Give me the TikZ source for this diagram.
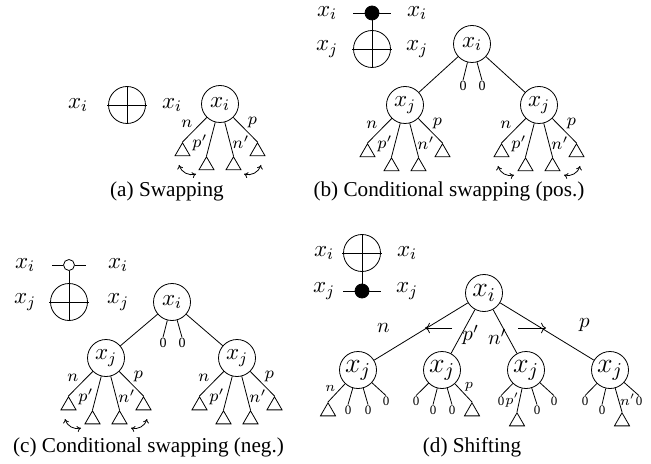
\RequirePackage{fix-cm}
\documentclass[tikz,border=0pt]{standalone}
\usepackage{fontspec}
\setmainfont{Liberation Serif}
\usetikzlibrary{shapes.geometric,arrows.meta,positioning}

\begin{document}
\begin{tikzpicture}[
    x=0.5pt, y=-0.5pt,
    vnode/.style={circle, draw, minimum size=18.5pt, inner sep=0pt, font=\fontsize{11.5}{12}\selectfont},
    bignode/.style={vnode, font=\fontsize{14}{15}\selectfont},
    target/.style={circle, draw, minimum size=18.5pt, inner sep=0pt},
    ctrl/.style={circle, draw, fill=black, minimum size=7pt, inner sep=0pt},
    octrl/.style={circle, draw, fill=white, minimum size=5.5pt, inner sep=0pt},
    qlabel/.style={font=\fontsize{11.5}{12}\selectfont, inner sep=0pt},
    leaf/.style={regular polygon, regular polygon sides=3, draw, minimum size=8.7pt, inner sep=0pt, anchor=corner 1},
    zero/.style={font=\fontsize{7}{8}\selectfont, inner sep=0.3pt},
    dzero/.style={zero, font=\fontsize{6.5}{7}\selectfont},
    elab/.style={font=\fontsize{8.5}{9}\selectfont, inner sep=1pt},
    dlab/.style={font=\fontsize{10.5}{11}\selectfont, inner sep=1pt},
    slab/.style={font=\fontsize{7}{8}\selectfont, inner sep=0.5pt},
    swap/.style={{To[length=2pt,width=3pt]}-{To[length=2pt,width=3pt]}, bend right=45},
    caption/.style={font=\fontsize{10.6}{12}\selectfont}
]
\useasboundingbox (0,0) rectangle (651,464);

% (a) Swapping
\node[qlabel] (aIn) at (78,105) {$x_i$};
\node[target] (aT) at (127,105) {};
\node[qlabel] (aOut) at (172,105) {$x_i$};
\draw ([xshift=-0.5pt]aT.west) -- ([xshift=0.5pt]aT.east);
\draw (aT.north) -- (aT.south);

\node[vnode] (aR) at (220,104) {$x_i$};
\node[leaf] (a1) at (182.5,142) {};
\node[leaf] (a2) at (206.5,156) {};
\node[leaf] (a3) at (233.5,156) {};
\node[leaf] (a4) at (257.5,142) {};
\draw (aR) -- node[elab, above left, pos=0.5] {$n$} (a1.corner 1);
\draw (aR) -- node[elab, left, pos=0.6] {$p'$} (a2.corner 1);
\draw (aR) -- node[elab, right, pos=0.6] {$n'$} (a3.corner 1);
\draw (aR) -- node[elab, above right, pos=0.5] {$p$} (a4.corner 1);
\draw[swap] (179,165) to (196,174);
\draw[swap] (244,174) to (261,165);
\node[caption] (capA) at (167,191) {(a) Swapping};

% (b) Conditional swapping, positive control
\node[qlabel] (bIn1) at (327,13) {$x_i$};
\node[qlabel] (bIn2) at (327,49) {$x_j$};
\node[ctrl] (bC) at (372,13) {};
\node[target] (bT) at (372,49) {};
\node[qlabel] (bOut1) at (417,13) {$x_i$};
\node[qlabel] (bOut2) at (417,49) {$x_j$};
\draw ([xshift=-9.5pt]bC.center) -- ([xshift=9.5pt]bC.center);
\draw ([xshift=-0.5pt]bT.west) -- ([xshift=0.5pt]bT.east);
\draw (bC) -- (bT.south);

\node[vnode] (bR) at (472,44) {$x_i$};
\node[vnode] (bA) at (405,105) {$x_j$};
\node[vnode] (bB) at (539,105) {$x_j$};
\draw (bR) -- (bA);
\draw (bR) -- (bB);
\node[zero] (bz1) at (463,86) {0};
\node[zero] (bz2) at (482,86) {0};
\draw (bR) -- (bz1.north);
\draw (bR) -- (bz2.north);

\node[leaf] (bA1) at (367.5,143) {};
\node[leaf] (bA2) at (391.5,157) {};
\node[leaf] (bA3) at (418.5,157) {};
\node[leaf] (bA4) at (442.5,143) {};
\draw (bA) -- node[elab, above left, pos=0.5] {$n$} (bA1.corner 1);
\draw (bA) -- node[elab, left, pos=0.6] {$p'$} (bA2.corner 1);
\draw (bA) -- node[elab, right, pos=0.6] {$n'$} (bA3.corner 1);
\draw (bA) -- node[elab, above right, pos=0.5] {$p$} (bA4.corner 1);

\node[leaf] (bB1) at (501.5,143) {};
\node[leaf] (bB2) at (525.5,157) {};
\node[leaf] (bB3) at (552.5,157) {};
\node[leaf] (bB4) at (576.5,143) {};
\draw (bB) -- node[elab, above left, pos=0.5] {$n$} (bB1.corner 1);
\draw (bB) -- node[elab, left, pos=0.6] {$p'$} (bB2.corner 1);
\draw (bB) -- node[elab, right, pos=0.6] {$n'$} (bB3.corner 1);
\draw (bB) -- node[elab, above right, pos=0.5] {$p$} (bB4.corner 1);
\draw[swap] (498,166) to (514,175);
\draw[swap] (564,175) to (580,166);
\node[caption] (capB) at (449,191) {(b) Conditional swapping (pos.)};

% (c) Conditional swapping, negative control
\node[qlabel] (cIn1) at (25,265) {$x_i$};
\node[qlabel] (cIn2) at (25,302) {$x_j$};
\node[octrl] (cO) at (69,265) {};
\node[target] (cT) at (69,302) {};
\node[qlabel] (cOut1) at (118,265) {$x_i$};
\node[qlabel] (cOut2) at (118,302) {$x_j$};
\draw ([xshift=-8.5pt]cO.center) -- (cO.west);
\draw (cO.east) -- ([xshift=8.5pt]cO.center);
\draw ([xshift=-0.5pt]cT.west) -- ([xshift=0.5pt]cT.east);
\draw (cO) -- (cT.south);

\node[vnode] (cR) at (172,302) {$x_i$};
\node[vnode] (cA) at (106,358) {$x_j$};
\node[vnode] (cB) at (237,358) {$x_j$};
\draw (cR) -- (cA);
\draw (cR) -- (cB);
\node[zero] (cz1) at (163,343) {0};
\node[zero] (cz2) at (182,343) {0};
\draw (cR) -- (cz1.north);
\draw (cR) -- (cz2.north);

\node[leaf] (cA1) at (68.5,396) {};
\node[leaf] (cA2) at (92.5,410) {};
\node[leaf] (cA3) at (119.5,410) {};
\node[leaf] (cA4) at (143.5,396) {};
\draw (cA) -- node[elab, above left, pos=0.5] {$n$} (cA1.corner 1);
\draw (cA) -- node[elab, left, pos=0.6] {$p'$} (cA2.corner 1);
\draw (cA) -- node[elab, right, pos=0.6] {$n'$} (cA3.corner 1);
\draw (cA) -- node[elab, above right, pos=0.5] {$p$} (cA4.corner 1);

\node[leaf] (cB1) at (199.5,396) {};
\node[leaf] (cB2) at (223.5,410) {};
\node[leaf] (cB3) at (250.5,410) {};
\node[leaf] (cB4) at (274.5,396) {};
\draw (cB) -- node[elab, above left, pos=0.5] {$n$} (cB1.corner 1);
\draw (cB) -- node[elab, left, pos=0.6] {$p'$} (cB2.corner 1);
\draw (cB) -- node[elab, right, pos=0.6] {$n'$} (cB3.corner 1);
\draw (cB) -- node[elab, above right, pos=0.5] {$p$} (cB4.corner 1);
\draw[swap] (65,419) to (81,428);
\draw[swap] (131,428) to (147,419);
\node[caption] (capC) at (148.5,447) {(c) Conditional swapping (neg.)};

% (d) Shifting
\node[qlabel] (dIn1) at (324,253) {$x_i$};
\node[qlabel] (dIn2) at (324,291) {$x_j$};
\node[target] (dT) at (362,253) {};
\node[ctrl] (dC) at (362,291) {};
\node[qlabel] (dOut1) at (407,253) {$x_i$};
\node[qlabel] (dOut2) at (407,291) {$x_j$};
\draw ([xshift=-0.5pt]dT.west) -- ([xshift=0.5pt]dT.east);
\draw ([xshift=-9.5pt]dC.center) -- ([xshift=9.5pt]dC.center);
\draw (dT.north) -- (dC);

\node[bignode] (dR) at (484,293) {$x_i$};
\node[bignode] (d1) at (358,370) {$x_j$};
\node[bignode] (d2) at (442,370) {$x_j$};
\node[bignode] (d3) at (526,370) {$x_j$};
\node[bignode] (d4) at (610,370) {$x_j$};
\draw (dR) -- node[dlab, pos=0.9, above=10pt] {$n$} (d1);
\draw (dR) -- node[dlab, pos=0.58, right, inner sep=0.5pt] {$p'$} (d2);
\draw (dR) -- node[dlab, pos=0.62, left, inner sep=0.5pt] {$n'$} (d3);
\draw (dR) -- node[dlab, pos=0.9, above=10pt] {$p$} (d4);
\draw[->] (452,328) -- (425,328);
\draw[->] (518,328) -- (546,328);

% children of the shifted tree
\node[leaf] (d1a) at (328,402) {};
\node[dzero] (d1b) at (348,410) {0};
\node[dzero] (d1c) at (368,410) {0};
\node[dzero] (d1d) at (386,401) {0};
\draw (d1) -- node[slab, above left, pos=0.5] {$n$} (d1a.corner 1);
\draw (d1) -- (d1b.north);
\draw (d1) -- (d1c.north);
\draw (d1) -- (d1d.north);

\node[dzero] (d2a) at (416,401) {0};
\node[dzero] (d2b) at (433,410) {0};
\node[dzero] (d2c) at (452,410) {0};
\node[leaf] (d2d) at (472,402) {};
\draw (d2) -- (d2a.north);
\draw (d2) -- (d2b.north);
\draw (d2) -- (d2c.north);
\draw (d2) -- node[slab, above right, pos=0.5] {$p$} (d2d.corner 1);

\node[dzero] (d3a) at (501,401) {0};
\node[leaf] (d3b) at (517,412) {};
\node[dzero] (d3c) at (537,410) {0};
\node[dzero] (d3d) at (554,401) {0};
\draw (d3) -- (d3a.north);
\draw (d3) -- node[slab, left, pos=0.5, inner sep=0pt] {$p'$} (d3b.corner 1);
\draw (d3) -- (d3c.north);
\draw (d3) -- (d3d.north);

\node[dzero] (d4a) at (585,401) {0};
\node[dzero] (d4b) at (602,410) {0};
\node[leaf] (d4c) at (622,412) {};
\node[dzero] (d4d) at (639,401) {0};
\draw (d4) -- (d4a.north);
\draw (d4) -- (d4b.north);
\draw (d4) -- node[slab, right, pos=0.5, inner sep=0.5pt] {$n'$} (d4c.corner 1);
\draw (d4) -- (d4d.north);
\node[caption] (capD) at (472,447) {(d) Shifting};

\end{tikzpicture}
\end{document}
